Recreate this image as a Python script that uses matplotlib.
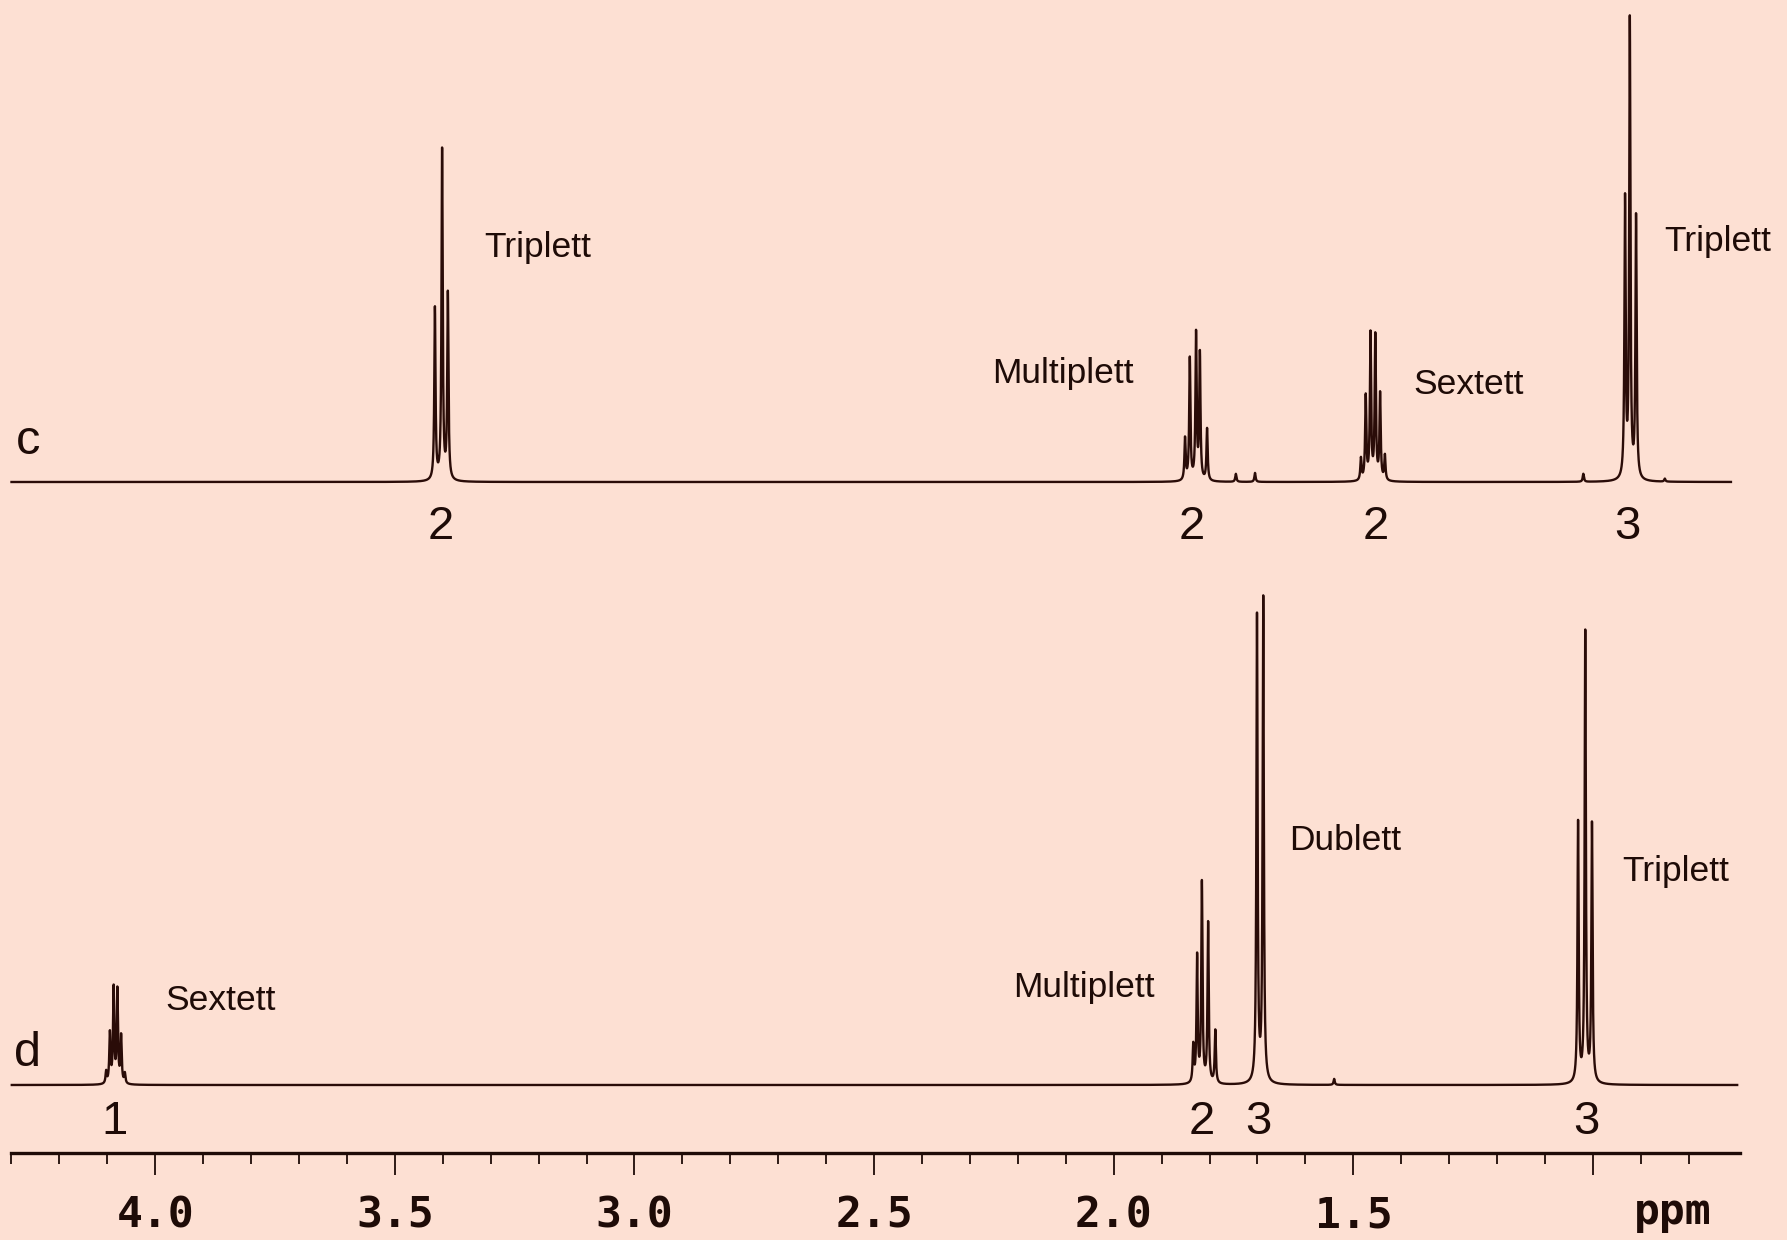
import numpy as np
import matplotlib
matplotlib.use('Agg')
from matplotlib import pyplot as plt

c_ppm = [3.416, 3.401, 3.389,
         1.851, 1.841, 1.828, 1.820, 1.805,
         1.745, 1.705,
         1.484, 1.474, 1.464, 1.454, 1.444, 1.434,
         1.020, 0.933, 0.923, 0.910, 0.850]
c_int = [172, 330, 186,
         42, 122, 146, 126, 52,
         8, 9,
         22, 84, 146, 144, 86, 25,
         8, 278, 458, 262, 3]

# spectrum d
d_ppm = [4.1025, 4.0947, 4.0869, 4.0791, 4.0713, 4.0635,
         1.834, 1.826, 1.816, 1.803, 1.788,
         1.701, 1.688,
         1.540,
         1.031, 1.016, 1.002]
d_int = [12, 50, 95, 93, 47, 10,
         37, 126, 200, 160, 53,
         466, 484,
         6,
         260, 450, 258]

# integrals written under the signals
c_integ = ['2', '2', '2', '3']
c_integ_ppm = [3.403, 1.836, 1.453, 0.927]
d_integ = ['1', '2', '3', '3']
d_integ_ppm = [4.086, 1.816, 1.699, 1.014]

major_ticks = [4.0, 3.5, 3.0, 2.5, 2.0, 1.5, 1.0]
major_labels = ['4.0', '3.5', '3.0', '2.5', '2.0', '1.5', '']
minor_ticks = [4.3, 4.2, 4.1, 3.9, 3.8, 3.7, 3.6, 3.4, 3.3, 3.2, 3.1, 2.9, 2.8,
               2.7, 2.6, 2.4, 2.3, 2.2, 2.1, 1.9, 1.8, 1.7, 1.6, 1.4, 1.3,
               1.2, 1.1, 0.9, 0.8]

bg = '#fde0d3'
ink = '#1e0b07'
line_col = '#2a0c08'


def lineshape(x, centers, heights, hw=0.0015):
    y = np.zeros_like(x)
    for p, h in zip(centers, heights):
        y += h / (1 + ((x - p) / hw) ** 2)
    return y


W, H = 1787, 1240
fig = plt.figure(figsize=(W / 100, H / 100), dpi=100, facecolor=bg)

xl, xr = 11.5, 1740
xlim = (4.2994, 0.6931)

# spectrum c: baseline at 482 px from top
ax_c = fig.add_axes([xl / W, (H - 482) / H, (xr - xl) / W, 482 / H])
# spectrum d plus ppm scale: baseline at 1085 px, scale line at 1153 px
ax_d = fig.add_axes([xl / W, (H - 1153) / H, (xr - xl) / W, (1153 - 540) / H])

for ax in (ax_c, ax_d):
    ax.set_facecolor('none')
    ax.set_xlim(*xlim)
    for s in ax.spines.values():
        s.set_visible(False)
    ax.set_yticks([])

ax_c.set_ylim(0, 482)
ax_d.set_ylim(-68, 1153 - 540 - 68)

xc = np.linspace(4.2994, 0.712, 24000)
ax_c.plot(xc, lineshape(xc, c_ppm, c_int), color=line_col, lw=1.7, clip_on=False)
xd = np.linspace(4.2994, 0.699, 24000)
ax_d.plot(xd, lineshape(xd, d_ppm, d_int), color=line_col, lw=1.7, clip_on=False)

ax_c.set_xticks([])

# ppm scale
ax_d.spines['bottom'].set_visible(True)
ax_d.spines['bottom'].set_linewidth(2.4)
ax_d.spines['bottom'].set_color(ink)
ax_d.set_xticks(major_ticks)
ax_d.set_xticklabels(major_labels, fontfamily='DejaVu Sans Mono', fontsize=31,
                     fontweight='bold', color=ink)
ax_d.set_xticks(minor_ticks, minor=True)
ax_d.tick_params(axis='x', which='major', direction='out', length=16, width=1.3,
                 color=ink, pad=14)
ax_d.tick_params(axis='x', which='minor', direction='out', length=8, width=1.3,
                 color=ink)
ax_d.text(0.833, -139, 'ppm', ha='center', va='baseline',
          fontfamily='DejaVu Sans Mono', fontsize=31, fontweight='bold', color=ink)

sans = ['Liberation Sans', 'Arial', 'DejaVu Sans']

# labels for c
ax_c.text(4.29, 28, 'c', fontfamily=sans, fontsize=35, color=ink, va='baseline')
ax_c.text(3.314, 234, 'Triplett', fontfamily=sans, fontsize=25.5, color=ink, va='center')
ax_c.text(2.254, 109, 'Multiplett', fontfamily=sans, fontsize=25.5, color=ink, va='center')
ax_c.text(1.375, 98, 'Sextett', fontfamily=sans, fontsize=25.5, color=ink, va='center')
ax_c.text(0.852, 240, 'Triplett', fontfamily=sans, fontsize=25.5, color=ink, va='center')
for t, p in zip(c_integ, c_integ_ppm):
    ax_c.text(p, -57, t, fontfamily=sans, fontsize=34, color=ink, ha='center',
              va='baseline', clip_on=False)

# labels for d
ax_d.text(4.294, 19, 'd', fontfamily=sans, fontsize=35, color=ink, va='baseline')
ax_d.text(3.979, 84, 'Sextett', fontfamily=sans, fontsize=25.5, color=ink, va='center')
ax_d.text(2.210, 98, 'Multiplett', fontfamily=sans, fontsize=25.5, color=ink, va='center')
ax_d.text(1.634, 244, 'Dublett', fontfamily=sans, fontsize=25.5, color=ink, va='center')
ax_d.text(0.939, 214, 'Triplett', fontfamily=sans, fontsize=25.5, color=ink, va='center')
for t, p in zip(d_integ, d_integ_ppm):
    ax_d.text(p, -49, t, fontfamily=sans, fontsize=34, color=ink, ha='center',
              va='baseline')

fig.savefig('out.png', dpi=100, facecolor=bg)
